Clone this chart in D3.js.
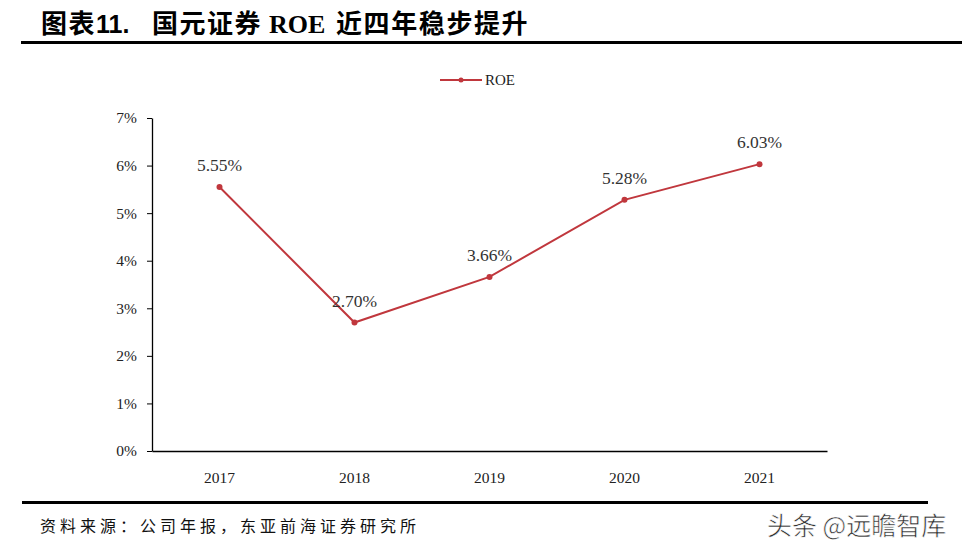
<!DOCTYPE html>
<html>
<head>
<meta charset="utf-8">
<script src="https://cdn.jsdelivr.net/npm/d3@7"></script>
<style>
  body { margin: 0; background: #fff; }
  svg { display: block; }
</style>
</head>
<body>
<svg id="chart" width="962" height="555"></svg>
<script>
// chart data
const years = ["2017", "2018", "2019", "2020", "2021"];
const roe = [5.55, 2.70, 3.66, 5.28, 6.03];
const yTicks = [0, 1, 2, 3, 4, 5, 6, 7];

const svg = d3.select("#chart");
const serif = "'Liberation Serif', 'DejaVu Serif', serif";
const cjk = "'Noto Sans CJK SC', sans-serif";
const lineColor = "#c0373d";

// title, pieces placed one by one so the gaps match
const title = svg.append("text")
    .attr("y", 33)
    .attr("font-size", 26)
    .attr("font-weight", "bold")
    .attr("fill", "#000");
title.append("tspan").attr("x", 41).attr("font-family", cjk).attr("letter-spacing", 1.5).text("图表");
title.append("tspan").attr("x", 96).attr("font-family", "'Liberation Sans', Arial, sans-serif").attr("font-size", 25).text("11.");
title.append("tspan").attr("x", 152).attr("font-family", cjk).attr("letter-spacing", 1.5).text("国元证券");
title.append("tspan").attr("x", 269).attr("font-family", serif).attr("font-size", 26).text("ROE");
title.append("tspan").attr("x", 336).attr("font-family", cjk).attr("letter-spacing", 1.6).text("近四年稳步提升");

svg.append("rect").attr("x", 21).attr("y", 41).attr("width", 941).attr("height", 3).attr("fill", "#000");
svg.append("rect").attr("x", 22).attr("y", 501).attr("width", 906).attr("height", 3).attr("fill", "#000");

// footer
svg.append("text")
    .attr("x", 40)
    .attr("y", 532)
    .attr("font-family", cjk)
    .attr("font-size", 16)
    .attr("letter-spacing", 4)
    .attr("fill", "#111")
    .text("资料来源：公司年报，东亚前海证券研究所");

svg.append("text")
    .attr("x", 767)
    .attr("y", 535)
    .attr("font-family", cjk)
    .attr("font-size", 25)
    .attr("fill", "#2a2a2a")
    .attr("stroke", "#fff")
    .attr("stroke-width", 0.6)
    .text("头条 @远瞻智库");

// plot area
const margin = { left: 152, right: 135, top: 118, bottom: 104 };
const width = 962 - margin.left - margin.right;
const height = 555 - margin.top - margin.bottom;

const g = svg.append("g").attr("transform", `translate(${margin.left},${margin.top})`);

const x = d3.scaleBand().domain(years).range([0, width]);
const y = d3.scaleLinear().domain([0, 7]).range([height, 0]);

const yAxis = g.append("g")
    .call(d3.axisLeft(y).tickValues(yTicks).tickFormat(d => d + "%").tickSize(5).tickSizeOuter(0));
yAxis.select(".domain").attr("stroke", "#000").attr("stroke-width", 1.3);
yAxis.selectAll(".tick line").attr("stroke", "#000");
yAxis.selectAll(".tick text")
    .attr("x", -15)
    .attr("font-family", serif)
    .attr("font-size", 15.5)
    .attr("fill", "#222");

const xAxis = g.append("g")
    .attr("transform", `translate(0,${height})`)
    .call(d3.axisBottom(x).tickSize(0).tickSizeOuter(0));
xAxis.select(".domain").attr("stroke", "#000").attr("stroke-width", 1.3);
xAxis.selectAll(".tick text")
    .attr("dy", "1.9em")
    .attr("font-family", serif)
    .attr("font-size", 15.5)
    .attr("fill", "#222");

const cx = d => x(d) + x.bandwidth() / 2;

const line = d3.line()
    .x((d, i) => cx(years[i]))
    .y(d => y(d));

g.append("path")
    .datum(roe)
    .attr("fill", "none")
    .attr("stroke", lineColor)
    .attr("stroke-width", 2)
    .attr("d", line);

g.selectAll("circle.pt")
    .data(roe)
    .join("circle")
    .attr("class", "pt")
    .attr("cx", (d, i) => cx(years[i]))
    .attr("cy", d => y(d))
    .attr("r", 3)
    .attr("fill", lineColor);

g.selectAll("text.lbl")
    .data(roe)
    .join("text")
    .attr("class", "lbl")
    .attr("x", (d, i) => cx(years[i]))
    .attr("y", d => y(d) - 16)
    .attr("text-anchor", "middle")
    .attr("font-family", serif)
    .attr("font-size", 17.5)
    .attr("fill", "#333")
    .text(d => d.toFixed(2) + "%");

// legend
const legend = svg.append("g").attr("transform", "translate(440,80)");
legend.append("line").attr("x1", 0).attr("x2", 42).attr("stroke", lineColor).attr("stroke-width", 2);
legend.append("circle").attr("cx", 21).attr("r", 2.5).attr("fill", lineColor);
legend.append("text")
    .attr("x", 45)
    .attr("y", 5)
    .attr("font-family", serif)
    .attr("font-size", 15)
    .attr("fill", "#222")
    .text("ROE");
</script>
</body>
</html>
